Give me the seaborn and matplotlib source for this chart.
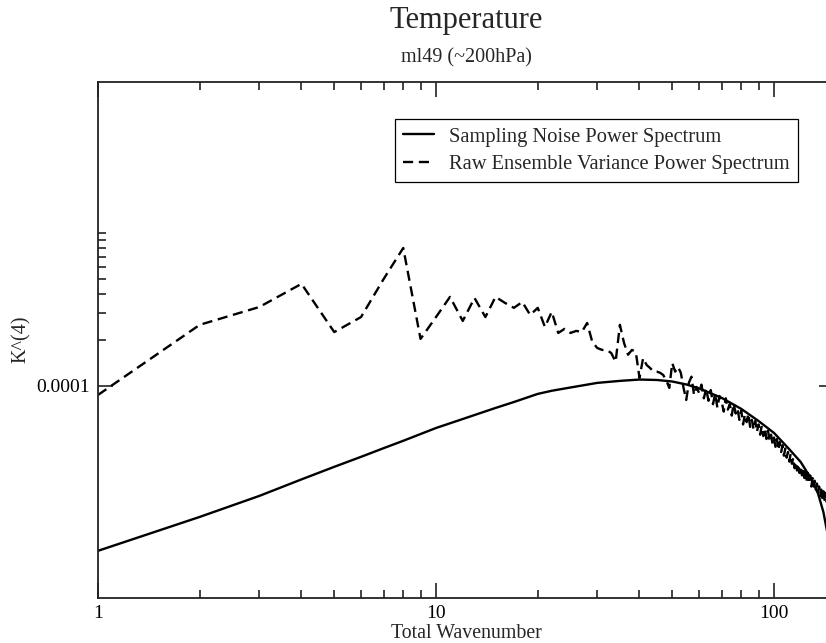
import matplotlib
matplotlib.use("Agg")
import matplotlib.pyplot as plt
from matplotlib.ticker import FixedLocator, NullFormatter, FixedFormatter
import pandas as pd
import seaborn as sns

# Sampling noise power spectrum (smooth curve), K^(4)
noise_wavenumber = [1, 2, 3, 4, 5, 6, 7, 8, 10, 12, 15, 17, 20, 22, 25, 30, 35, 40, 45,
                    50, 55, 60, 70, 80, 90, 100, 110, 120, 130, 135, 140, 145, 150]
noise_power = [8.36e-6, 1.393e-5, 1.91e-5, 2.45e-5, 2.96e-5, 3.44e-5, 3.92e-5, 4.38e-5,
               5.31e-5, 6.08e-5, 7.18e-5, 7.85e-5, 8.87e-5, 9.30e-5, 9.77e-5, 1.047e-4,
               1.079e-4, 1.101e-4, 1.094e-4, 1.069e-4, 1.023e-4, 9.64e-5, 8.36e-5,
               7.08e-5, 5.90e-5, 4.93e-5, 3.94e-5, 3.18e-5, 2.39e-5, 1.98e-5, 1.50e-5,
               1.00e-5, 6.0e-6]

# Raw ensemble variance power spectrum, one value per total wavenumber 1..150
raw_power = [
    8.73e-5, 2.51e-4, 3.28e-4, 4.65e-4, 2.25e-4, 2.82e-4, 5.00e-4, 7.98e-4, 2.03e-4, 2.82e-4,
    3.82e-4, 2.66e-4, 3.76e-4, 2.82e-4, 3.82e-4, 3.49e-4, 3.24e-4, 3.54e-4, 2.91e-4, 3.24e-4,
    2.43e-4, 3.05e-4, 2.22e-4, 2.36e-4, 2.22e-4, 2.29e-4, 2.25e-4, 2.58e-4, 1.94e-4, 1.77e-4,
    1.72e-4, 1.72e-4, 1.64e-4, 1.44e-4, 2.51e-4, 1.91e-4, 1.60e-4, 1.72e-4, 1.67e-4, 1.13e-4,
    1.52e-4, 1.37e-4, 1.31e-4, 1.24e-4, 1.24e-4, 1.22e-4, 1.18e-4, 1.09e-4, 9.71e-5, 1.41e-4,
    1.24e-4, 1.33e-4, 1.22e-4, 9.71e-5, 8.10e-5, 1.05e-4, 1.15e-4, 8.73e-5, 9.85e-5, 9.00e-5,
    1.02e-4, 8.3e-5, 9.6e-5, 8.0e-5, 9.4e-5, 7.6e-5, 8.9e-5, 7.2e-5, 8.6e-5, 7.9e-5,
    6.8e-5, 8.3e-5, 7.0e-5, 7.6e-5, 6.4e-5, 7.7e-5, 6.6e-5, 7.1e-5, 6.0e-5, 6.9e-5,
    5.6e-5, 6.5e-5, 5.8e-5, 6.6e-5, 5.4e-5, 6.0e-5, 5.2e-5, 5.9e-5, 5.0e-5, 5.6e-5,
    4.8e-5, 5.5e-5, 4.7e-5, 5.3e-5, 4.5e-5, 5.1e-5, 4.4e-5, 4.8e-5, 4.2e-5, 4.6e-5,
    4.0e-5, 4.5e-5, 3.8e-5, 4.3e-5, 3.7e-5, 4.1e-5, 3.5e-5, 3.9e-5, 3.4e-5, 3.7e-5,
    3.2e-5, 3.6e-5, 3.1e-5, 3.4e-5, 2.9e-5, 3.2e-5, 2.8e-5, 3.1e-5, 2.7e-5, 3.0e-5,
    2.6e-5, 2.9e-5, 2.5e-5, 2.8e-5, 2.4e-5, 2.7e-5, 2.3e-5, 2.6e-5, 2.2e-5, 2.5e-5,
    2.2e-5, 2.4e-5, 2.1e-5, 2.3e-5, 2.0e-5, 2.2e-5, 1.9e-5, 2.1e-5, 1.85e-5, 2.05e-5,
    1.8e-5, 2.0e-5, 1.75e-5, 1.9e-5, 1.7e-5, 1.85e-5, 1.65e-5, 1.8e-5, 1.6e-5, 1.7e-5,
]
raw_wavenumber = list(range(1, len(raw_power) + 1))

x_ticks = [1, 10, 100]
x_tick_labels = ["1", "10", "100"]
y_ticks = [1e-4]
y_tick_labels = ["0.0001"]
y_minor_ticks = [2e-4, 3e-4, 4e-4, 5e-4, 6e-4, 7e-4, 8e-4, 9e-4, 1e-3]

noise_df = pd.DataFrame({"wavenumber": noise_wavenumber, "power": noise_power})
raw_df = pd.DataFrame({"wavenumber": raw_wavenumber, "power": raw_power})

sns.set_theme(style="white")
plt.rcParams["font.family"] = ["Liberation Serif", "DejaVu Serif"]
plt.rcParams["lines.dashed_pattern"] = [4.3, 2.4]

W, H = 826, 643
fig = plt.figure(figsize=(W / 100, H / 100), dpi=100)
ax_left, ax_right, ax_top, ax_bottom = 98, 834, 82, 598
ax = fig.add_axes([ax_left / W, 1 - ax_bottom / H,
                   (ax_right - ax_left) / W, (ax_bottom - ax_top) / H])

sns.lineplot(data=noise_df, x="wavenumber", y="power", ax=ax, color="black",
             lw=1.7, label="Sampling Noise Power Spectrum", estimator=None)
sns.lineplot(data=raw_df, x="wavenumber", y="power", ax=ax, color="black",
             lw=1.7, linestyle="--", label="Raw Ensemble Variance Power Spectrum",
             estimator=None)

ax.set_xscale("log")
ax.set_yscale("log")
ax.set_xlim(1, 150.5)
ax.set_ylim(4.11e-6, 9.70e-3)

ax.xaxis.set_major_locator(FixedLocator(x_ticks))
ax.xaxis.set_major_formatter(FixedFormatter(x_tick_labels))
x_minor = [m * d for d in (1, 10, 100) for m in range(2, 10)]
ax.xaxis.set_minor_locator(FixedLocator(x_minor))
ax.xaxis.set_minor_formatter(NullFormatter())
ax.yaxis.set_major_locator(FixedLocator(y_ticks))
ax.yaxis.set_major_formatter(FixedFormatter(y_tick_labels))
ax.yaxis.set_minor_locator(FixedLocator(y_minor_ticks))
ax.yaxis.set_minor_formatter(NullFormatter())

ax.tick_params(which="both", direction="in", top=True, right=True,
               bottom=True, left=True, color="#222222", width=1.2)
ax.tick_params(which="major", length=10.8, labelsize=14, labelcolor="black")
ax.tick_params(which="minor", length=5.8)
ax.tick_params(axis="x", which="major", pad=5)
ax.tick_params(axis="y", which="major", pad=5.8)
for sp in ax.spines.values():
    sp.set_color("#222222")
    sp.set_linewidth(1.3)

ax.set_xlabel("")
ax.set_ylabel("")
cx = (ax_left + ax_right) / 2 / W
fig.text(cx, 1 - 28 / H, "Temperature", ha="center", va="baseline", fontsize=22)
fig.text(cx, 1 - 62.5 / H, "ml49 (~200hPa)", ha="center", va="baseline", fontsize=14.5)
fig.text(cx, 1 - 638 / H, "Total Wavenumber", ha="center", va="baseline", fontsize=14.3)
fig.text(21 / W, 1 - 339 / H, "K^(4)", ha="center", va="center", rotation=90,
         fontsize=14.5)

leg = ax.legend(loc="upper right", bbox_to_anchor=(798 / W, 1 - 119 / H),
                bbox_transform=fig.transFigure, borderaxespad=0, fontsize=14.8,
                frameon=True, fancybox=False, framealpha=1, edgecolor="black",
                handlelength=1.5, handletextpad=0.75, labelspacing=0.4,
                borderpad=0.4)
leg.get_frame().set_linewidth(0.9)

fig.savefig("out.png", dpi=100)
